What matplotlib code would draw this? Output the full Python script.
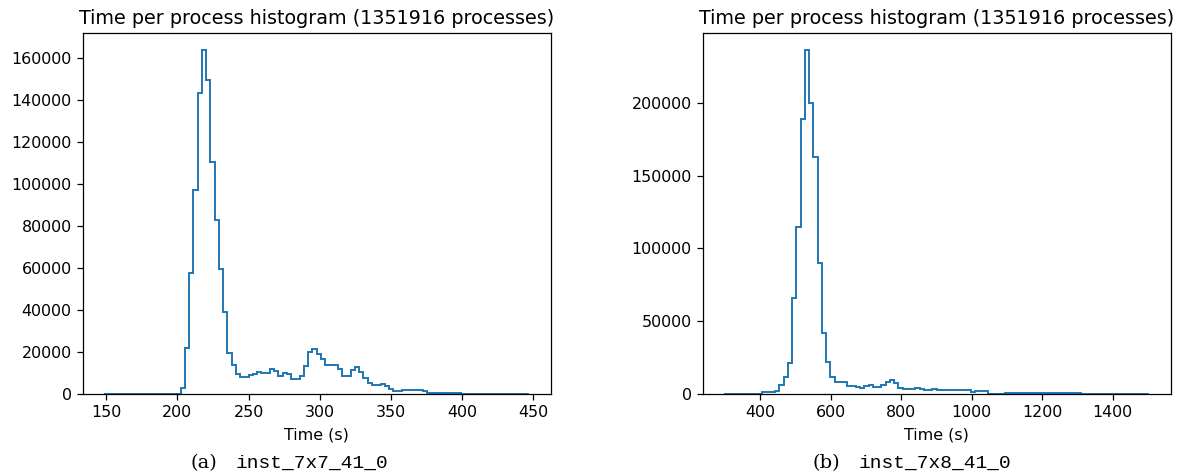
import numpy as np
import matplotlib
matplotlib.use("Agg")
import matplotlib.pyplot as plt

# histogram data (100 bins each)
total_processes = 1351916

t_range_7x7 = (148.4, 447.3)
counts_7x7 = [
    5, 0, 0, 0, 0, 0, 0, 0, 0, 0,
    0, 0, 0, 0, 0, 0, 0, 150, 3000, 21800,
    57800, 96900, 143300, 163500, 149200, 110300, 82600, 59400, 38900, 19400,
    14000, 9530, 8260, 8260, 9060, 9530, 10490, 10170, 10170, 11760,
    11120, 8740, 9850, 9380, 6990, 6990, 8740, 13500, 19860, 21300,
    19070, 16530, 13980, 13980, 13670, 11760, 8740, 8740, 11440, 12870,
    10330, 7790, 5400, 4290, 4290, 4610, 3810, 2380, 1590, 1590,
    1750, 1900, 2070, 2070, 1750, 1270, 640, 500, 450, 500,
    650, 700, 500, 350, 220, 150, 100, 80, 60, 50,
    40, 30, 25, 20, 15, 10, 8, 5, 3, 2,
]

t_range_7x8 = (297.8, 1504.2)
counts_7x8 = [
    5, 0, 0, 0, 0, 0, 0, 0, 100, 1300,
    1300, 1500, 2300, 6200, 11900, 21500, 66000, 115000, 189000, 236000,
    200000, 163000, 90000, 41600, 21900, 11400, 8000, 8000, 8450, 5480,
    5480, 5000, 4340, 5480, 5940, 4570, 4570, 5940, 8450, 9360,
    7300, 3880, 3500, 3300, 3400, 3900, 3200, 3000, 3000, 3100,
    2900, 2800, 2700, 2800, 2600, 2500, 2600, 2400, 1500, 2300,
    2300, 2000, 200, 150, 200, 300, 400, 500, 600, 800,
    900, 800, 750, 700, 650, 600, 800, 1000, 1000, 900,
    800, 700, 500, 400, 300, 250, 200, 150, 120, 100,
    90, 80, 60, 50, 40, 30, 25, 20, 15, 10,
]

panels = [
    ("(a)", "inst_7x7_41_0", t_range_7x7, counts_7x7),
    ("(b)", "inst_7x8_41_0", t_range_7x8, counts_7x8),
]

fs = 11.4
fig = plt.figure(figsize=(11.91, 4.74), dpi=100)
ax_left = [0.0694, 0.5900]
tag_right = [0.1822, 0.7053]
name_left = [0.1982, 0.7212]

for i, (tag, name, t_range, counts) in enumerate(panels):
    ax = fig.add_axes([ax_left[i], 0.1688, 0.3930, 0.7610])
    edges = np.linspace(t_range[0], t_range[1], len(counts) + 1)
    ax.stairs(counts, edges, color="#1f77b4", linewidth=1.4)
    ax.set_title(f"Time per process histogram ({total_processes} processes)",
                 fontsize=13.8, pad=7)
    ax.set_xlabel("Time (s)", fontsize=fs, labelpad=5)
    ax.tick_params(labelsize=fs, length=4.5, width=0.9)
    for sp in ax.spines.values():
        sp.set_linewidth(0.9)

    # LaTeX style subfigure caption
    fig.text(tag_right[i], 0.012, tag, family="DejaVu Serif", fontsize=14,
             ha="right", va="baseline")
    fig.text(name_left[i], 0.012, name, family="Liberation Mono",
             fontsize=14, ha="left", va="baseline")

fig.savefig("out.png", dpi=100)
